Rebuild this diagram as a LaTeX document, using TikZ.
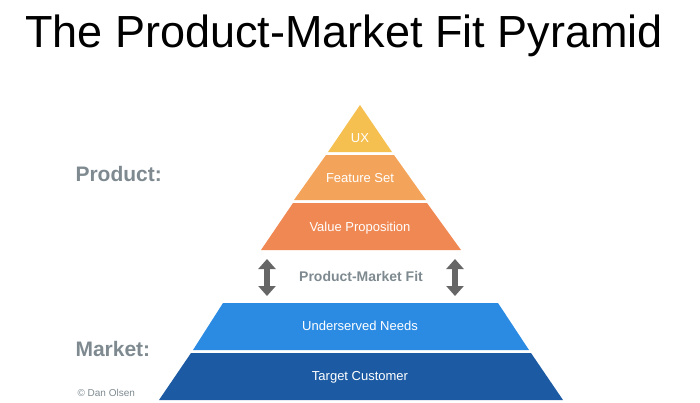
\documentclass[tikz,border=0pt]{standalone}
\usepackage{fontspec}
\setmainfont{Liberation Sans}
\usetikzlibrary{arrows.meta}
\definecolor{cux}{HTML}{F5C04F}
\definecolor{cfs}{HTML}{F3A45A}
\definecolor{cvp}{HTML}{F08853}
\definecolor{cun}{HTML}{2B8BE3}
\definecolor{ctc}{HTML}{1C5BA3}
\definecolor{lbl}{HTML}{7E8A90}
\definecolor{arr}{HTML}{666666}
\tikzset{band/.style={white,font=\fontsize{13}{15}\selectfont},
side/.style={lbl,font=\bfseries\fontsize{21}{24}\selectfont,anchor=west},
dbl/.style={arr,line width=6pt,{Triangle[width=17pt,length=10pt]}-{Triangle[width=17pt,length=10pt]}}}
\begin{document}
\begin{tikzpicture}[x=1pt,y=-1pt]
\useasboundingbox (0,0) rectangle (700,402);
\node (title) at (344,36) {\fontsize{45}{50}\selectfont The Product-Market Fit Pyramid};
\fill[cux] (360,105) -- (392,152) -- (328,152) -- cycle;
\fill[cfs] (326,155) -- (394,155) -- (426,200) -- (294,200) -- cycle;
\fill[cvp] (293,203) -- (427,203) -- (461,250) -- (261,250) -- cycle;
\fill[cun] (223,303) -- (498,303) -- (529,350) -- (193,350) -- cycle;
\fill[ctc] (191,353) -- (531,353) -- (563,400) -- (159,400) -- cycle;
\node[band] (ux) at (360,138) {UX};
\node[band] (fs) at (360,178) {Feature Set};
\node[band] (vp) at (360,228) {Value Proposition};
\node[band] (un) at (360,326) {Underserved Needs};
\node[band] (tc) at (360,377) {Target Customer};
\node[lbl,font=\bfseries\fontsize{14}{16}\selectfont] (pmf) at (361,276) {Product-Market Fit};
\coordinate (a1) at (267,259); \coordinate (a2) at (267,296);
\coordinate (b1) at (455,259); \coordinate (b2) at (455,296);
\draw[dbl] (a1) -- (a2);
\draw[dbl] (b1) -- (b2);
\node[side] (prod) at (72,174) {Product:};
\node[side] (mkt) at (72,349) {Market:};
\node[lbl,anchor=west,font=\fontsize{10}{12}\selectfont] (cr) at (74,393) {© Dan Olsen};
\end{tikzpicture}
\end{document}
